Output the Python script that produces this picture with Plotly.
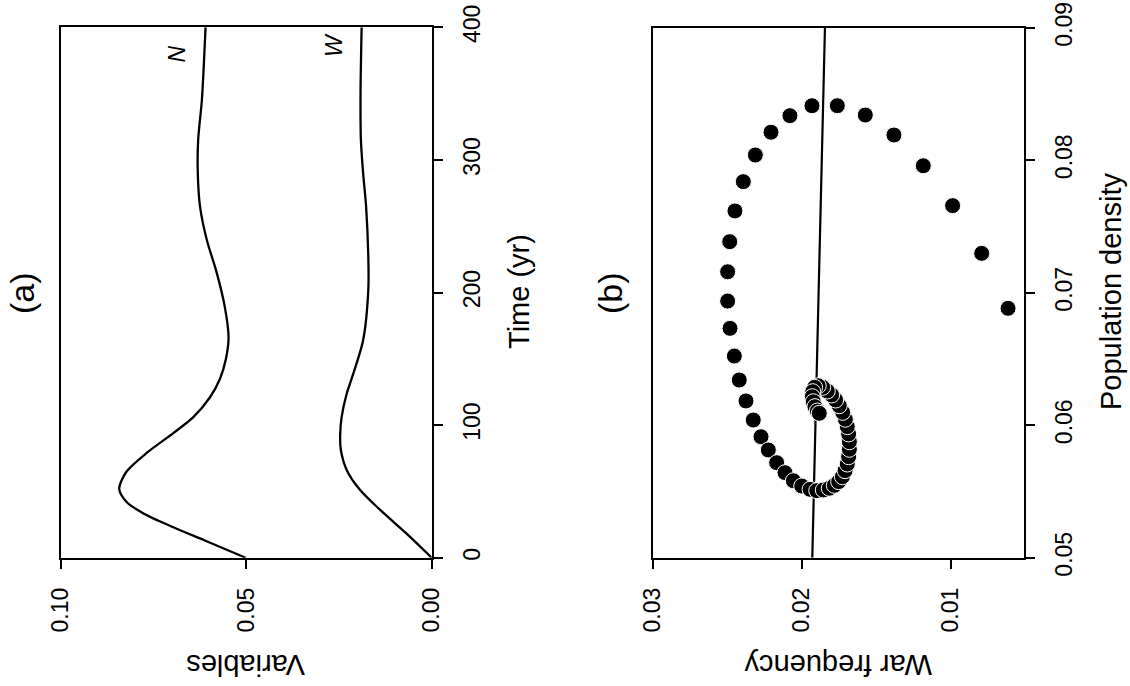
import plotly.graph_objects as go

# ---------------- data ----------------
# Panel (a): time series
time_N = [0, 13, 23, 33, 42, 52, 65, 79, 94, 106, 121, 135, 150, 166, 189, 215, 240, 265, 290, 315, 345, 370, 400]
val_N = [0.0502, 0.0612, 0.0697, 0.0775, 0.0823, 0.0843, 0.0823, 0.0769, 0.0697, 0.0643, 0.0598, 0.0571,
         0.0555, 0.0548, 0.0558, 0.0580, 0.0607, 0.0625, 0.0631, 0.0630, 0.0620, 0.0615, 0.0610]
time_W = [0, 18, 36, 51, 66, 81, 92, 106, 124, 135, 164, 202, 227, 265, 290, 315, 350, 400]
val_W = [0.0, 0.0067, 0.0139, 0.0193, 0.0229, 0.0245, 0.0247, 0.0243, 0.0229, 0.0216, 0.0185, 0.0171,
         0.0171, 0.0177, 0.0185, 0.0191, 0.0192, 0.0189]

# Panel (b): phase plane trajectory
war_freq = [0.00615, 0.00792, 0.00987, 0.01184, 0.01381, 0.01573, 0.01761, 0.01931, 0.02079, 0.02206,
            0.02311, 0.02392, 0.02448, 0.02483, 0.02497, 0.02497, 0.02481, 0.02452, 0.02419, 0.02374,
            0.02325, 0.02273, 0.02224, 0.02168, 0.02112, 0.02056, 0.02000, 0.01944,
            0.01899, 0.01855, 0.01815, 0.01781, 0.01752, 0.01727, 0.01709, 0.01694, 0.01685, 0.01680,
            0.01680, 0.01685, 0.01694, 0.01707, 0.01725, 0.01748, 0.01772, 0.01799, 0.01828, 0.01859,
            0.01889, 0.01913, 0.01926, 0.01929, 0.01922, 0.01911, 0.01895, 0.01882]
pop_dens = [0.06882, 0.07297, 0.07657, 0.07958, 0.08190, 0.08341, 0.08411, 0.08411, 0.08336, 0.08211,
            0.08039, 0.07838, 0.07617, 0.07385, 0.07158, 0.06937, 0.06731, 0.06522, 0.06341, 0.06183,
            0.06039, 0.05913, 0.05813, 0.05717, 0.05642, 0.05581, 0.05541, 0.05516,
            0.05506, 0.05511, 0.05524, 0.05546, 0.05574, 0.05611, 0.05657, 0.05707, 0.05762, 0.05818,
            0.05875, 0.05934, 0.05989, 0.06045, 0.06097, 0.06147, 0.06190, 0.06228, 0.06258, 0.06286,
            0.06298, 0.06286, 0.06253, 0.06215, 0.06177, 0.06140, 0.06107, 0.06090]
# Isocline (straight line)
iso_wf = [0.01929, 0.01844]
iso_pd = [0.05, 0.09]

# tick labels
var_ticks = [0.0, 0.05, 0.10]
var_ticktext = ["0.00", "0.05", "0.10"]
time_ticks = [0, 100, 200, 300, 400]
wf_ticks = [0.01, 0.02, 0.03]
wf_ticktext = ["0.01", "0.02", "0.03"]
pd_ticks = [0.05, 0.06, 0.07, 0.08, 0.09]
pd_ticktext = ["0.05", "0.06", "0.07", "0.08", "0.09"]

# ---------------- figure ----------------
W, H = 1130, 686
FONT = "Liberation Sans, Arial, Helvetica, sans-serif"

fig = go.Figure()
fig.add_trace(go.Scatter(x=val_N, y=time_N, mode="lines",
                         line=dict(color="black", width=2.3, shape="spline", smoothing=0.8),
                         xaxis="x", yaxis="y"))
fig.add_trace(go.Scatter(x=val_W, y=time_W, mode="lines",
                         line=dict(color="black", width=2.3, shape="spline", smoothing=0.8),
                         xaxis="x", yaxis="y"))
fig.add_trace(go.Scatter(x=iso_wf, y=iso_pd, mode="lines", line=dict(color="black", width=2.2),
                         xaxis="x2", yaxis="y2"))
fig.add_trace(go.Scatter(x=war_freq, y=pop_dens, mode="markers",
                         marker=dict(color="black", size=16, line=dict(color="white", width=1)),
                         xaxis="x2", yaxis="y2"))

def px(xp, yp):
    return xp / W, 1 - yp / H

axis_common = dict(showgrid=False, zeroline=False, showline=True, linecolor="black", linewidth=1.7,
                   mirror=True, ticks="outside", ticklen=9, tickwidth=1.7, tickcolor="black",
                   tickfont=dict(family=FONT, size=23, color="black"), tickangle=-90,
                   ticklabelstandoff=10, automargin=False)

fig.update_layout(
    template="none",
    width=W, height=H, margin=dict(l=0, r=0, t=0, b=0, autoexpand=False),
    paper_bgcolor="white", plot_bgcolor="white", showlegend=False,
    xaxis=dict(axis_common, domain=[61 / W, 431.7 / W], range=[0.10, 0.0],
               tickvals=var_ticks, ticktext=var_ticktext, anchor="y"),
    yaxis=dict(axis_common, domain=[1 - 557.7 / H, 1 - 27.3 / H], range=[0, 400],
               tickvals=time_ticks, side="right", anchor="x"),
    xaxis2=dict(axis_common, domain=[652.7 / W, 1024 / W], range=[0.03, 0.00508],
                tickvals=wf_ticks, ticktext=wf_ticktext, anchor="y2"),
    yaxis2=dict(axis_common, domain=[1 - 557.7 / H, 1 - 27.7 / H], range=[0.05, 0.09],
                tickvals=pd_ticks, ticktext=pd_ticktext, side="right", anchor="x2"),
)

def label(text, xp, yp, size, angle):
    x, y = px(xp, yp)
    fig.add_annotation(x=x, y=y, xref="paper", yref="paper", text=text, showarrow=False,
                       textangle=angle, font=dict(family=FONT, size=size, color="black"),
                       xanchor="center", yanchor="middle")

label("(a)", 22, 293, 34, -90)
label("(b)", 610, 293, 34, -90)
label("Time (yr)", 519, 292, 29, -90)
label("Population density", 1111, 292, 29, -90)
label("Variables", 246, 665, 29, 180)
label("War frequency", 838, 665, 29, 180)

fig.add_annotation(x=0.0688, y=380, xref="x", yref="y", text="<i>N</i>", showarrow=False, textangle=-90,
                   font=dict(family=FONT, size=23, color="black"))
fig.add_annotation(x=0.0265, y=387, xref="x", yref="y", text="<i>W</i>", showarrow=False, textangle=-90,
                   font=dict(family=FONT, size=23, color="black"))

fig.write_html("out.html", config={"displayModeBar": False},
               post_script="document.body.style.margin='0px';")
